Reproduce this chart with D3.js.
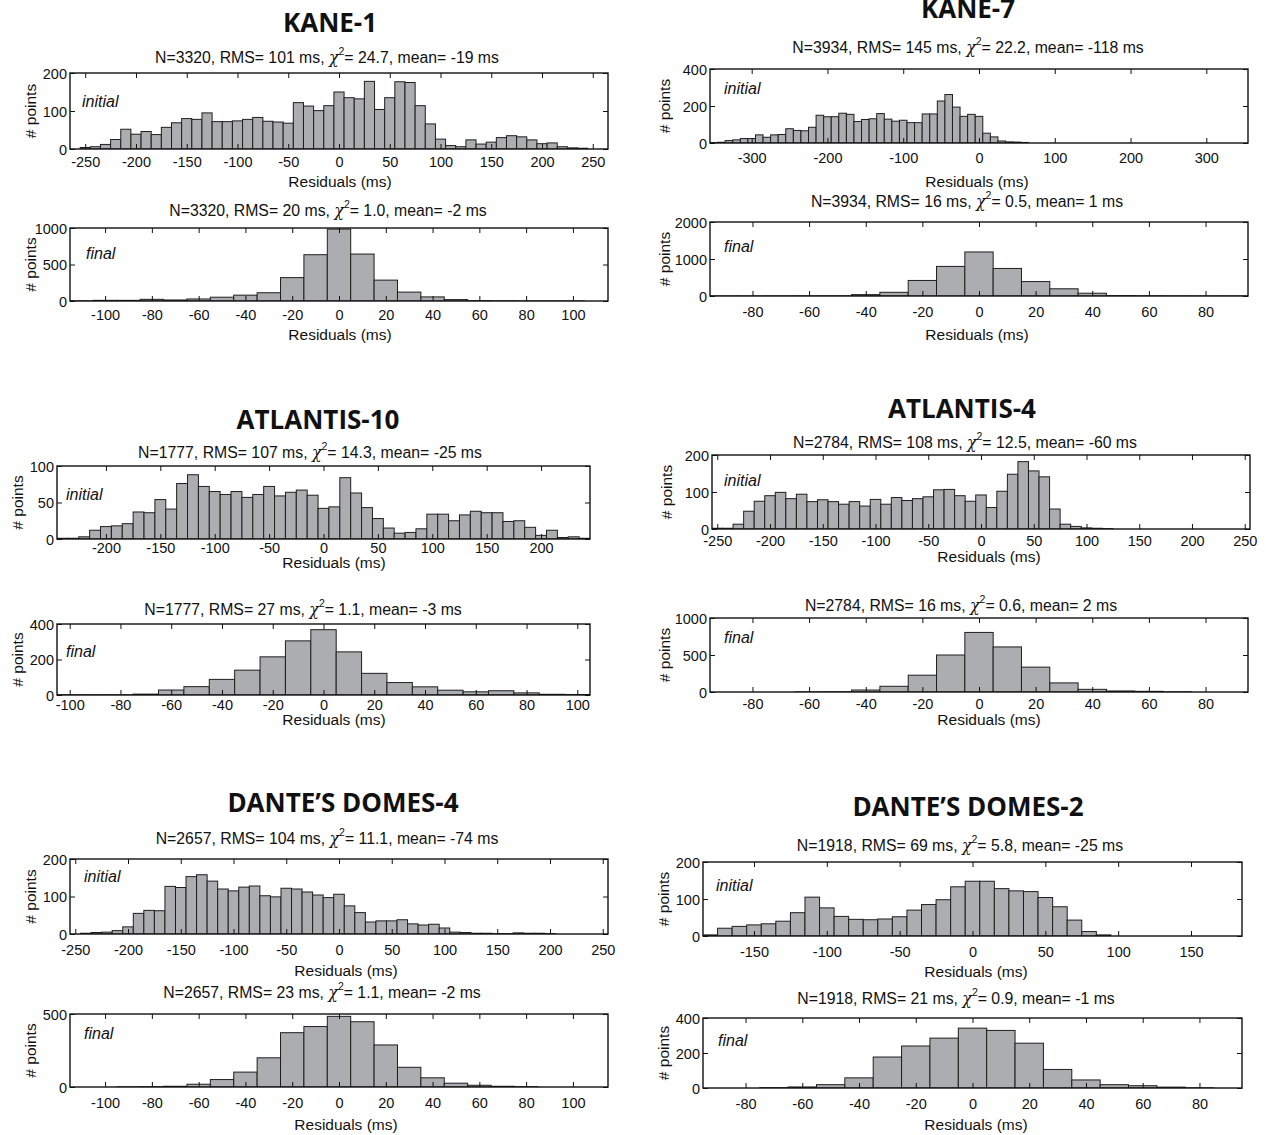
<!DOCTYPE html>
<html><head><meta charset="utf-8">
<script src="https://cdn.jsdelivr.net/npm/d3@7"></script>
<style>body{margin:0;background:#fff}svg{display:block}</style>
</head><body>
<svg id="c" width="1266" height="1135"></svg>
<script>
// ---------------- DATA ----------------
const siteTitles = ["KANE-1", "KANE-7", "ATLANTIS-10", "ATLANTIS-4", "DANTE\u2019S DOMES-4", "DANTE\u2019S DOMES-2"];
const stageTags = ["initial", "final"];

const statN    = [3320, 3320, 3934, 3934, 1777, 1777, 2784, 2784, 2657, 2657, 1918, 1918];
const statRMS  = [101, 20, 145, 16, 107, 27, 108, 16, 104, 23, 69, 21];
const statChi2 = ["24.7", "1.0", "22.2", "0.5", "14.3", "1.1", "12.5", "0.6", "11.1", "1.1", "5.8", "0.9"];
const statMean = [-19, -2, -118, 1, -25, -3, -60, 2, -74, -2, -25, -1];

// histogram counts, bins 10 ms wide; first bin centre given separately
const kane1Initial = [4,6,12,25,52,39,46,38,57,69,80,78,95,72,72,74,78,83,73,71,68,122,113,101,114,150,135,132,178,104,135,177,175,114,66,26,9,6,24,13,18,30,35,32,24,14,16,6,3,2];
const kane1Final   = [2,9,9,23,14,28,52,80,113,320,634,985,643,286,122,56,19,5,2,1,1,1,0];
const kane7Initial = [2,4,13,17,24,24,44,31,44,46,77,68,66,85,150,142,142,161,155,116,127,131,159,129,118,123,110,110,157,157,227,262,194,144,155,144,53,33,11,6,5,3];
const kane7Final   = [1,1,2,3,5,37,100,420,800,1190,745,390,195,75,10,5,2,1,1];
const atl10Initial = [1,1,3,12,17,18,21,37,36,54,41,76,88,72,65,61,65,57,61,72,59,64,67,60,42,44,84,63,43,28,15,8,9,14,34,34,25,33,38,36,36,24,25,16,5,12,2,3,1];
const atl10Final   = [1,1,1,5,28,47,88,140,215,305,368,243,122,70,46,27,18,24,12,4,3];
const atl4Initial  = [2,2,13,48,75,90,99,82,94,74,79,74,67,74,62,80,67,85,77,82,87,106,107,90,75,92,58,102,148,182,157,141,54,13,7,3,2,1];
const atl4Final    = [0,0,0,1,3,27,77,227,500,805,609,336,123,36,14,9,2,0,0];
const dd4Initial   = [2,4,5,9,19,55,63,62,127,124,153,158,141,120,115,125,128,102,99,122,120,112,104,97,106,75,57,32,35,35,38,27,24,26,16,5,4,2,2,1,1,3,2,2,1];
const dd4Final     = [1,2,5,19,51,102,200,372,414,484,447,288,135,63,26,12,5,2,0];
const dd2Initial   = [3,21,26,30,33,40,63,105,76,53,45,44,46,52,70,85,98,133,148,148,128,122,120,104,79,43,12,3];
const dd2Final     = [2,6,19,58,177,240,285,342,329,256,106,46,19,13,5,1];

const firstBinCentre = [-250, -110, -350, -90, -240, -100, -250, -90, -240, -90, -180, -70];
const binWidth = 10;

const xDomains = [[-265,265],[-115,115],[-355,355],[-95,95],[-245,245],[-105,105],[-255,255],[-95,95],[-255,255],[-115,115],[-185,185],[-95,95]];
const yDomains = [[0,200],[0,1000],[0,400],[0,2000],[0,100],[0,400],[0,200],[0,1000],[0,200],[0,500],[0,200],[0,400]];

const xTicks = [
  [-250,-200,-150,-100,-50,0,50,100,150,200,250],
  [-100,-80,-60,-40,-20,0,20,40,60,80,100],
  [-300,-200,-100,0,100,200,300],
  [-80,-60,-40,-20,0,20,40,60,80],
  [-200,-150,-100,-50,0,50,100,150,200],
  [-100,-80,-60,-40,-20,0,20,40,60,80,100],
  [-250,-200,-150,-100,-50,0,50,100,150,200,250],
  [-80,-60,-40,-20,0,20,40,60,80],
  [-250,-200,-150,-100,-50,0,50,100,150,200,250],
  [-100,-80,-60,-40,-20,0,20,40,60,80,100],
  [-150,-100,-50,0,50,100,150],
  [-80,-60,-40,-20,0,20,40,60,80]
];
const yTicks = [[0,100,200],[0,500,1000],[0,200,400],[0,1000,2000],[0,50,100],[0,200,400],[0,100,200],[0,500,1000],[0,100,200],[0,500],[0,100,200],[0,200,400]];

const xLabel = "Residuals (ms)";
const yLabel = "# points";

const counts = [kane1Initial, kane1Final, kane7Initial, kane7Final, atl10Initial, atl10Final,
                atl4Initial, atl4Final, dd4Initial, dd4Final, dd2Initial, dd2Final];

// ---------------- LAYOUT ----------------
// box: [left, right, top, bottom]
const layout = [
  {box:[70,608,73,149],   subX:327, subY:57,   tickY:162,  labX:340, labY:181,  ylX:30,  tagX:82,  tagY:101},
  {box:[70,608,228,301],  subX:328, subY:210,  tickY:315,  labX:340, labY:334,  ylX:30,  tagX:86,  tagY:253},
  {box:[710,1248,69,143], subX:968, subY:47,   tickY:158,  labX:977, labY:181,  ylX:664, tagX:724, tagY:88},
  {box:[710,1248,222,296],subX:967, subY:201,  tickY:312,  labX:977, labY:334,  ylX:664, tagX:724, tagY:246},
  {box:[57,590,466,539],  subX:310, subY:452,  tickY:548,  labX:334, labY:562,  ylX:17,  tagX:66,  tagY:494},
  {box:[57,590,624,695],  subX:303, subY:609,  tickY:705,  labX:334, labY:719,  ylX:17,  tagX:66,  tagY:651},
  {box:[712,1250,455,529],subX:965, subY:442,  tickY:541,  labX:989, labY:556,  ylX:666, tagX:724, tagY:480},
  {box:[710,1248,618,692],subX:961, subY:605,  tickY:704,  labX:989, labY:719,  ylX:664, tagX:724, tagY:637},
  {box:[70,608,859,934],  subX:327, subY:838,  tickY:950,  labX:346, labY:970,  ylX:30,  tagX:84,  tagY:876},
  {box:[70,608,1014,1087],subX:322, subY:992,  tickY:1103, labX:346, labY:1124, ylX:30,  tagX:84,  tagY:1033},
  {box:[703,1242,862,936],subX:960, subY:845,  tickY:952,  labX:976, labY:971,  ylX:663, tagX:716, tagY:885},
  {box:[703,1242,1018,1088],subX:956,subY:998, tickY:1104, labX:976, labY:1124, ylX:663, tagX:718, tagY:1040}
];
const titlePos = [[330,22],[968,8],[318,419],[962,408],[343,802],[968,806]];

const FONT = "'Liberation Sans', Arial, Helvetica, sans-serif";
const TITLE_FONT = "'Open Sans', 'Noto Sans', sans-serif";
const SUB = 15.8, TXT = 15.5, TAG = 16, TICK = 14.5, TICKLEN = 5;
const fmt = d => String(d);   // plain hyphen minus, as in the reference

// ---------------- DRAW ----------------
const svg = d3.select("#c");
svg.append("rect").attr("width",1266).attr("height",1135).attr("fill","#fff");
const defs = svg.append("defs");

siteTitles.forEach((t,i) => {
  svg.append("text").attr("x",titlePos[i][0]).attr("y",titlePos[i][1])
    .attr("text-anchor","middle").attr("dominant-baseline","central")
    .attr("font-family",TITLE_FONT).attr("font-weight",700).attr("font-size",26)
    .attr("fill","#111").text(t);
});

counts.forEach((vals, p) => {
  const L = layout[p];
  const [x0,x1,y0,y1] = L.box;
  const x = d3.scaleLinear().domain(xDomains[p]).range([x0,x1]);
  const y = d3.scaleLinear().domain(yDomains[p]).range([y1,y0]);
  const g = svg.append("g");

  // subtitle with chi^2
  const st = g.append("text").attr("x",L.subX).attr("y",L.subY)
    .attr("text-anchor","middle").attr("dominant-baseline","central")
    .attr("font-family",FONT).attr("font-size",SUB).attr("fill","#111");
  st.append("tspan").text(`N=${statN[p]}, RMS= ${statRMS[p]} ms, `);
  st.append("tspan").attr("font-family","'DejaVu Serif', serif").attr("font-style","italic").text("\u03C7");
  st.append("tspan").attr("dy",-6).attr("font-size",10.5).text("2");
  st.append("tspan").attr("dy",6).text(`= ${statChi2[p]}, mean= ${statMean[p]} ms`);

  // bars
  const cid = "clip"+p;
  defs.append("clipPath").attr("id",cid).append("rect")
    .attr("x",x0).attr("y",y0).attr("width",x1-x0).attr("height",y1-y0);
  const bins = vals.map((v,k) => ({c: firstBinCentre[p] + k*binWidth, v}));
  g.append("g").attr("clip-path",`url(#${cid})`)
    .selectAll("rect").data(bins).join("rect")
    .attr("x",d => x(d.c - binWidth/2))
    .attr("width",d => x(d.c + binWidth/2) - x(d.c - binWidth/2))
    .attr("y",d => y(d.v))
    .attr("height",d => y(0) - y(d.v))
    .attr("fill","#abadb0").attr("stroke","#1e1e1e").attr("stroke-width",1);

  // axes (inward ticks on all four sides)
  const axB = g.append("g").attr("transform",`translate(0,${y1})`)
    .call(d3.axisBottom(x).tickValues(xTicks[p]).tickSizeInner(-TICKLEN).tickSizeOuter(0).tickFormat(fmt));
  axB.selectAll("text").attr("y", L.tickY - y1).attr("dy","0.35em")
    .attr("font-family",FONT).attr("font-size",TICK).attr("fill","#111");
  const axT = g.append("g").attr("transform",`translate(0,${y0})`)
    .call(d3.axisTop(x).tickValues(xTicks[p]).tickSizeInner(-TICKLEN).tickSizeOuter(0).tickFormat(""));
  const axL = g.append("g").attr("transform",`translate(${x0},0)`)
    .call(d3.axisLeft(y).tickValues(yTicks[p]).tickSizeInner(-TICKLEN).tickSizeOuter(0).tickFormat(fmt));
  axL.selectAll("text").attr("x",-3).attr("dy","0.35em")
    .attr("font-family",FONT).attr("font-size",TICK).attr("fill","#111");
  const axR = g.append("g").attr("transform",`translate(${x1},0)`)
    .call(d3.axisRight(y).tickValues(yTicks[p]).tickSizeInner(-TICKLEN).tickSizeOuter(0).tickFormat(""));
  [axB,axT,axL,axR].forEach(a => {
    a.select(".domain").remove();
    a.selectAll("line").attr("stroke","#111").attr("stroke-width",1);
  });

  // frame
  g.append("rect").attr("x",x0).attr("y",y0).attr("width",x1-x0).attr("height",y1-y0)
    .attr("fill","none").attr("stroke","#111").attr("stroke-width",1.4);

  // labels
  g.append("text").attr("x",L.labX).attr("y",L.labY)
    .attr("text-anchor","middle").attr("dominant-baseline","central")
    .attr("font-family",FONT).attr("font-size",TXT).attr("fill","#111").text(xLabel);
  const cy = (y0+y1)/2;
  g.append("text").attr("transform",`translate(${L.ylX},${cy}) rotate(-90)`)
    .attr("text-anchor","middle").attr("dominant-baseline","central")
    .attr("font-family",FONT).attr("font-size",TXT).attr("fill","#111").text(yLabel);
  g.append("text").attr("x",L.tagX).attr("y",L.tagY)
    .attr("dominant-baseline","central").attr("font-style","italic")
    .attr("font-family",FONT).attr("font-size",TAG).attr("fill","#111").text(stageTags[p%2]);
});
</script>
</body></html>
